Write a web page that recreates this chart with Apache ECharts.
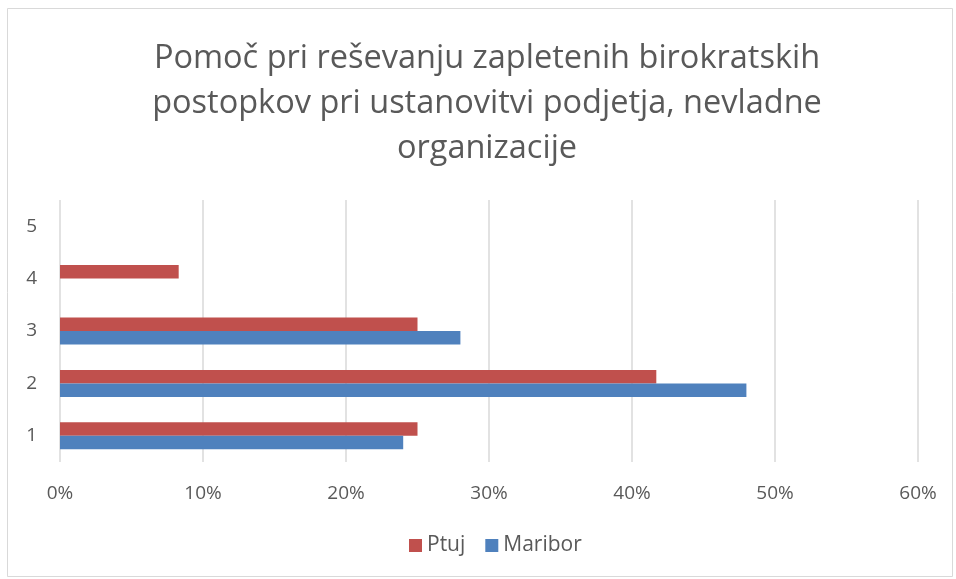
<!DOCTYPE html>
<html>
<head>
<meta charset="utf-8">
<script src="https://cdn.jsdelivr.net/npm/echarts@6/dist/echarts.min.js"></script>
<style>
html,body{margin:0;padding:0;background:#fff;}
#chart{width:956px;height:579px;}
</style>
</head>
<body>
<div id="chart"></div>
<script>
var categories = ['1', '2', '3', '4', '5'];
var ptuj = [25, 41.7, 25, 8.3, 0];
var maribor = [24, 48, 28, 0, 0];
var xTicks = [0, 10, 20, 30, 40, 50, 60];
var titleText = 'Pomoč pri reševanju zapletenih birokratskih\npostopkov pri ustanovitvi podjetja, nevladne\norganizacije';

var chart = echarts.init(document.getElementById('chart'), null, {renderer: 'canvas'});
var font = 'Open Sans';
chart.setOption({
  animation: false,
  backgroundColor: '#fff',
  graphic: [{
    type: 'rect',
    shape: {x: 7.5, y: 8.5, width: 945, height: 568},
    style: {fill: 'none', stroke: '#d9d9d9', lineWidth: 1},
    silent: true
  }],
  title: {
    text: titleText,
    left: 482,
    textAlign: 'center',
    top: 31,
    textStyle: {fontFamily: font, fontSize: 32.5, fontWeight: 'normal', color: '#595959', lineHeight: 45, align: 'center'}
  },
  legend: {
    data: ['Ptuj', 'Maribor'],
    bottom: 18,
    left: 404,
    itemWidth: 13,
    itemHeight: 13,
    itemGap: 20,
    icon: 'rect',
    textStyle: {fontFamily: font, fontSize: 21, color: '#595959'}
  },
  grid: {left: 60, right: 38, top: 200, bottom: 117, containLabel: false},
  xAxis: {
    type: 'value',
    min: xTicks[0],
    max: xTicks[xTicks.length - 1],
    interval: 10,
    axisLine: {show: false},
    axisTick: {show: false},
    splitLine: {lineStyle: {color: '#d9d9d9', width: 1.5}},
    axisLabel: {fontFamily: font, fontSize: 19, color: '#595959', margin: 22, formatter: '{value}%'}
  },
  yAxis: {
    type: 'category',
    data: categories,
    axisLine: {show: false},
    axisTick: {show: false},
    axisLabel: {fontFamily: font, fontSize: 19, color: '#595959', margin: 23}
  },
  series: [
    {name: 'Ptuj', type: 'bar', data: ptuj, barWidth: 13.5, barGap: '0%',
     itemStyle: {color: '#c0504d'}},
    {name: 'Maribor', type: 'bar', data: maribor, barWidth: 13.5, barGap: '0%',
     itemStyle: {color: '#4f81bd'}}
  ]
});
</script>
</body>
</html>
